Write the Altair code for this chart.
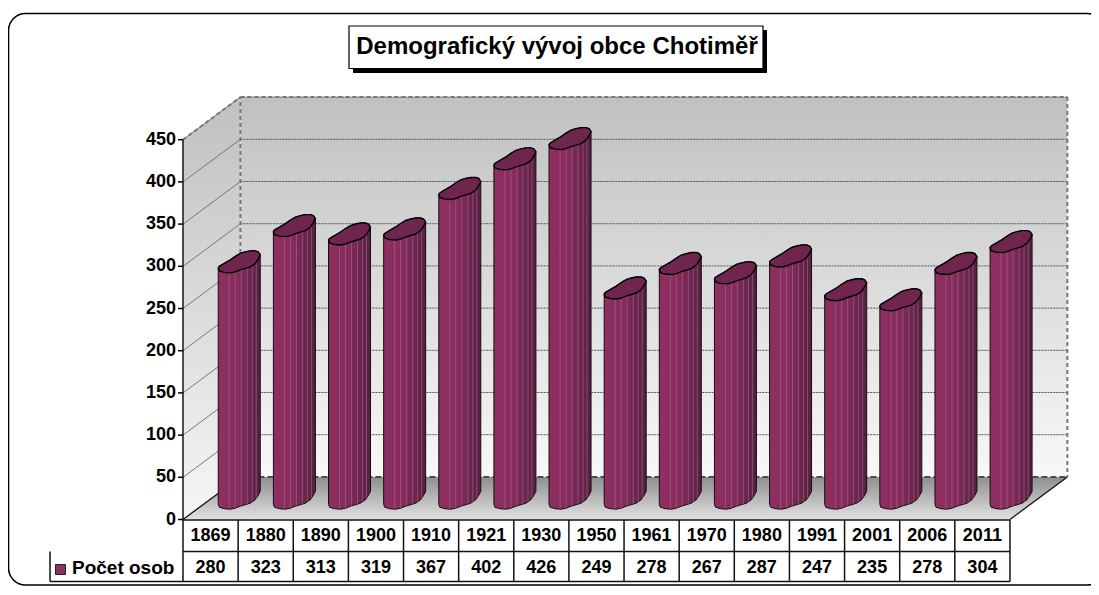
import altair as alt
import pandas as pd
import bisect

years = ["1869","1880","1890","1900","1910","1921","1930","1950","1961","1970","1980","1991","2001","2006","2011"]
counts = [280,323,313,319,367,402,426,249,278,267,287,247,235,278,304]
y_ticks = [0,50,100,150,200,250,300,350,400,450]
title_text = "Demografický vývoj obce Chotiměř"
series_name = "Počet osob"

FONT = "Liberation Sans"
N = len(years)
# 3-D look: depth of the floor in axis units, pixel size of one axis unit
PX_X, PX_Y = 55.13, 0.844
DX, DY = 57.4 / PX_X, 42.6 / PX_Y
# outline of a column's cross-section relative to its centre, in pixels
sec_x = [-21,-20,-15,-9,-4,1,6,11,16,19,21]
sec_up = [6,4.5,1.5,-2,-5.5,-8.5,-10,-11,-11,-10,-7]
sec_lo = [6,9,10.5,11,10,8,6.5,5,1.5,-3,-7]
ridges = [-10,-4,2,8,13,17]

VIEW_W, VIEW_H = 1083, 578
xs = alt.Scale(domain=[(8-183)/PX_X, (8+VIEW_W-183)/PX_X], nice=False, zero=False)
ys = alt.Scale(domain=[(519.5-8-VIEW_H)/PX_Y, (519.5-8)/PX_Y], nice=False, zero=False)

def X(f="x", **k): return alt.X(f"{f}:Q", scale=xs, axis=None, **k)
def Y(f="y", **k): return alt.Y(f"{f}:Q", scale=ys, axis=None, stack=None, **k)

def vgrad(stops):
    return alt.Gradient(gradient="linear", x1=0, x2=0, y1=0, y2=1,
                        stops=[alt.GradientStop(offset=o, color=c) for o, c in stops])

# frame
frame = alt.Chart(pd.DataFrame({"a":[0]})).mark_rect(fill="white", stroke="black", strokeWidth=1.6, cornerRadius=17).encode(
    x=alt.value(0.5), x2=alt.value(1096), y=alt.value(5.5), y2=alt.value(577))

# back wall
wall = alt.Chart(pd.DataFrame({"x":[DX],"x2":[N+DX],"y":[DY],"y2":[450+DY]})).mark_rect(
    color=vgrad([(0,"#C0C0C0"),(1,"#F8F8F8")])).encode(x=X(), x2="x2:Q", y=Y(), y2="y2:Q")

# value axis: ticks and labels
tk = pd.DataFrame({"x":[-5/PX_X]*len(y_ticks),"x2":[0]*len(y_ticks),"y":y_ticks,"t":[str(v) for v in y_ticks]})
ticks = alt.Chart(tk).mark_rule(color="black", strokeWidth=1.5).encode(x=X(), x2="x2:Q", y=Y())
tick_labels = alt.Chart(tk).mark_text(font=FONT, fontSize=18, fontWeight="bold", color="black", align="right", baseline="middle", dx=-2).encode(
    x=X(), y=Y(), text="t:N")

# side wall
side = alt.Chart(pd.DataFrame({"x":[0,DX],"yt":[450,450+DY],"yb":[0,DY]})).mark_area(
    orient="vertical", color=vgrad([(0,"#C0C0C0"),(1,"#F6F6F6")])).encode(x=X(), y=Y("yt"), y2="yb:Q")

# grid
grid_back = alt.Chart(pd.DataFrame({"x":[DX]*9,"x2":[N+DX]*9,"y":[v+DY for v in y_ticks[1:]]})).mark_rule(
    color="#555555", strokeWidth=1, strokeDash=[2,1]).encode(x=X(), x2="x2:Q", y=Y())
grid_diag = alt.Chart(pd.DataFrame({"x":[0]*9,"x2":[DX]*9,"y":y_ticks[1:],"y2":[v+DY for v in y_ticks[1:]]})).mark_rule(
    color="#777777", strokeWidth=1).encode(x=X(), x2="x2:Q", y=Y(), y2="y2:Q")

# floor
floor = alt.Chart(pd.DataFrame({"x":[0,DX,N,N+DX],"yt":[0,DY,DY,DY],"yb":[0,0,0,DY]})).mark_area(
    orient="vertical", color=vgrad([(0,"#8E8E8E"),(1,"#E2E2E2")])).encode(x=X(), y=Y("yt"), y2="yb:Q")

# wall outlines
ol = pd.DataFrame({"x":[DX,DX,N+DX,0],"x2":[DX,N+DX,N+DX,DX],
                   "y":[DY,450+DY,450+DY,450],"y2":[450+DY,450+DY,DY,450+DY]})
outline = alt.Chart(ol).mark_rule(color="#777777", strokeWidth=2, strokeDash=[4,3]).encode(
    x=X(), x2="x2:Q", y=Y(), y2="y2:Q")
back_edge = alt.Chart(pd.DataFrame({"x":[DX],"x2":[N+DX],"y":[DY]})).mark_rule(
    color="#111111", strokeWidth=1.4, strokeDash=[6,3]).encode(x=X(), x2="x2:Q", y=Y())
edges = alt.Chart(pd.DataFrame({"x":[N,0],"x2":[N+DX,DX],"y":[0,0],"y2":[DY,DY]})).mark_rule(
    color="#111111", strokeWidth=1.3).encode(x=X(), x2="x2:Q", y=Y(), y2="y2:Q")

# columns
rows, caps, lines = [], [], []
for i, (yr, v) in enumerate(zip(years, counts)):
    cx = i + 0.5 + DX / 2
    base = DY / 2
    top = v + DY / 2
    for sx, up, lo in zip(sec_x, sec_up, sec_lo):
        rows.append({"bar": yr, "x": cx + sx / PX_X, "yt": top - up / PX_Y, "yb": base - lo / PX_Y})
        caps.append({"bar": yr, "x": cx + sx / PX_X, "yt": top - up / PX_Y, "yb": top - lo / PX_Y})
    for r in ridges:
        j = max(1, bisect.bisect_left(sec_x, r))
        t = (r - sec_x[j-1]) / (sec_x[j] - sec_x[j-1])
        lo_t = sec_lo[j-1] + t * (sec_lo[j] - sec_lo[j-1])
        lines.append({"x": cx + r / PX_X, "y": top - lo_t / PX_Y, "y2": base - lo_t / PX_Y})

body_grad = alt.Gradient(gradient="linear", x1=0, x2=1, y1=0, y2=0, stops=[
    alt.GradientStop(offset=0, color="#8F2F61"), alt.GradientStop(offset=0.45, color="#862C5C"),
    alt.GradientStop(offset=0.75, color="#6C2650"), alt.GradientStop(offset=1, color="#561F40")])
bodies = alt.Chart(pd.DataFrame(rows)).mark_area(orient="vertical", color=body_grad, stroke="#111111", strokeWidth=1).encode(
    x=X(), y=Y("yt"), y2="yb:Q", detail="bar:N")
ridge = alt.Chart(pd.DataFrame(lines)).mark_rule(color="#B77F9C", strokeWidth=1, opacity=0.45).encode(
    x=X(), y=Y(), y2="y2:Q")
tops = alt.Chart(pd.DataFrame(caps)).mark_area(orient="vertical", color="#70254F", stroke="#000000", strokeWidth=1.4).encode(
    x=X(), y=Y("yt"), y2="yb:Q", detail="bar:N")

# value axis line
axis_line = alt.Chart(pd.DataFrame({"x":[0],"y":[0],"y2":[450]})).mark_rule(color="#222222", strokeWidth=1.6).encode(
    x=X(), y=Y(), y2="y2:Q")

# data table
row1, row2, row3 = 520, 551.5, 581.5
tb = pd.DataFrame({"x":[0,-133/PX_X],"x2":[N,N],"y":[(519.5-row2)/PX_Y,(519.5-row3)/PX_Y]})
t_h = alt.Chart(tb).mark_rule(color="#111111", strokeWidth=1.5).encode(x=X(), x2="x2:Q", y=Y())
t_top = alt.Chart(pd.DataFrame({"x":[0],"x2":[N],"y":[(519.5-row1)/PX_Y]})).mark_rule(color="#111111", strokeWidth=1.5).encode(
    x=X(), x2="x2:Q", y=Y())
tv = pd.DataFrame({"x":[float(i) for i in range(N+1)]+[-133/PX_X],
                   "y":[(519.5-row1)/PX_Y]*(N+1)+[(519.5-row2)/PX_Y],
                   "y2":[(519.5-row3)/PX_Y]*(N+2)})
t_v = alt.Chart(tv).mark_rule(color="#111111", strokeWidth=1.5).encode(x=X(), y=Y(), y2="y2:Q")
cells = pd.DataFrame({"x":[i+0.5 for i in range(N)], "year":years, "val":[str(c) for c in counts]})
t_year = alt.Chart(cells).mark_text(font=FONT, fontSize=18, fontWeight="bold", color="black").encode(
    x=X(), y=alt.value(536-8), text="year:N")
t_val = alt.Chart(cells).mark_text(font=FONT, fontSize=18, fontWeight="bold", color="black").encode(
    x=X(), y=alt.value(568-8), text="val:N")
swatch = alt.Chart(pd.DataFrame({"a":[0]})).mark_rect(fill="#8F2F61", stroke="#222222", strokeWidth=1).encode(
    x=alt.value(47.5), x2=alt.value(57.5), y=alt.value(556.5), y2=alt.value(566.5))
legend = alt.Chart(pd.DataFrame({"t":[series_name]})).mark_text(
    font=FONT, fontSize=19, fontWeight="bold", color="black", align="left").encode(
    x=alt.value(72-8), y=alt.value(568-8), text="t:N")

# title box
shadow = alt.Chart(pd.DataFrame({"a":[0]})).mark_rect(fill="black").encode(
    x=alt.value(345), x2=alt.value(759), y=alt.value(22), y2=alt.value(65))
tbox = alt.Chart(pd.DataFrame({"a":[0]})).mark_rect(fill="white", stroke="black", strokeWidth=1.2).encode(
    x=alt.value(341), x2=alt.value(755), y=alt.value(18), y2=alt.value(60.5))
ttext = alt.Chart(pd.DataFrame({"t":[title_text]})).mark_text(
    font=FONT, fontSize=24, fontWeight="bold", color="black").encode(
    x=alt.value(549), y=alt.value(39), text="t:N")

chart = alt.layer(
    frame, wall, side, grid_back, grid_diag, floor, outline, back_edge, edges,
    bodies, ridge, tops, axis_line, ticks, tick_labels, t_top, t_h, t_v, t_year, t_val, swatch, legend, shadow, tbox, ttext
).properties(width=VIEW_W, height=VIEW_H, padding=0, autosize=alt.AutoSizeParams(type="none"), background="white"
).configure_view(stroke=None)

chart.save("out.html", embed_options={"renderer": "svg", "actions": False})
